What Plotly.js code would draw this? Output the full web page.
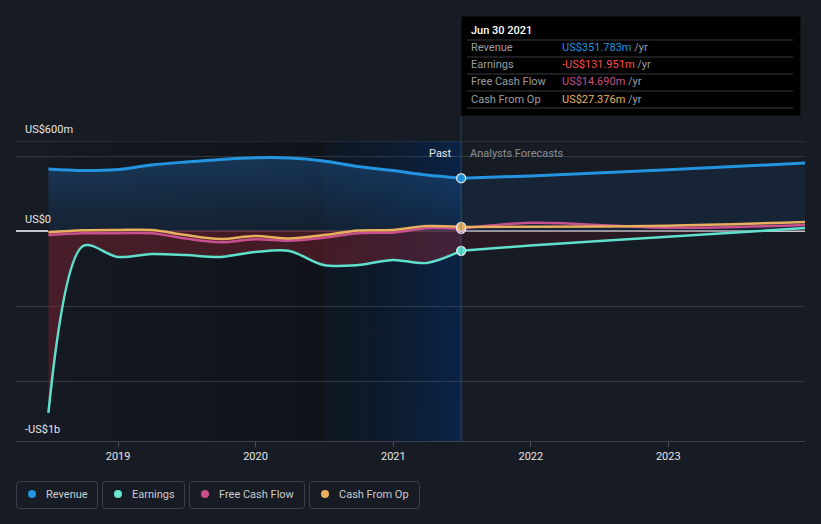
<!DOCTYPE html>
<html>
<head>
<meta charset="utf-8">
<script src="https://cdn.plot.ly/plotly-3.0.1.min.js"></script>
<style>
  html, body { margin: 0; padding: 0; background: #161b24; }
  #chart { width: 821px; height: 524px; }
</style>
</head>
<body>
<div id="chart"></div>
<script>
// ---------------- DATA ----------------
const pastDates = ['2018-06-30','2018-09-30','2018-12-31','2019-03-31','2019-06-30','2019-09-30','2019-12-31','2020-03-31','2020-06-30','2020-09-30','2020-12-31','2021-03-31','2021-06-30'];
const revenuePast  = [413, 403, 410, 440, 460, 477, 488, 487, 467, 430, 403, 373, 351.783];
const earningsPast = [-1213, -100, -173, -153, -160, -173, -140, -133, -227, -227, -193, -213, -131.951];
const fcfPast      = [-27, -15, -15, -15, -50, -75, -55, -65, -45, -15, -10, 18, 14.69];
const cfoPast      = [-8, 5, 7, 7, -27, -53, -33, -50, -27, 3, 7, 33, 27.376];

const forecastDates = ['2021-06-30','2021-12-31','2022-12-31','2023-12-31'];
const revenueFc  = [351.783, 367, 408, 453];
const earningsFc = [-131.951, -97, -39, 20];
const fcfFc      = [14.69, 55, 22, 40];
const cfoFc      = [27.376, 28, 35, 60];

const tickDates  = ['2019-01-01','2020-01-01','2021-01-01','2022-01-01','2023-01-01'];
const tickLabels = ['2019','2020','2021','2022','2023'];

const seriesNames = ['Revenue','Earnings','Free Cash Flow','Cash From Op'];
const tooltipDate = 'Jun 30 2021';
const tooltipValues = ['US$351.783m','-US$131.951m','US$14.690m','US$27.376m'];
const yLabels = [{v: 600, t: 'US$600m'}, {v: 0, t: 'US$0'}, {v: -1400, t: '-US$1b'}];

// ---------------- STYLE ----------------
const FONT = 'Roboto, "Open Sans", sans-serif';
const BG = '#161b24';
const C = { rev: '#2394df', earn: '#5fe0cc', fcf: '#c8508e', cfo: '#e8b05e' };
const valueColors = ['#2394df', '#ff4a4a', '#c8508e', '#e8b05e'];
const legendDots = [C.rev, '#6ae6d4', '#c94f8a', C.cfo];

// plot area in pixels
const PL = 16, PR = 805, PT = 141, PB = 441;
const px = x => (x - PL) / (PR - PL);
const py = y => (PB - y) / (PB - PT);

function gradImg(stops) {
  const c = document.createElement('canvas');
  c.width = 200; c.height = 4;
  const ctx = c.getContext('2d');
  const g = ctx.createLinearGradient(0, 0, 200, 0);
  stops.forEach(s => g.addColorStop(s[0], s[1]));
  ctx.fillStyle = g;
  ctx.fillRect(0, 0, 200, 4);
  return c.toDataURL();
}
const ms = d => new Date(d + 'T00:00:00Z').getTime();

function lineTrace(x, y, color, width, extra) {
  return Object.assign({
    type: 'scatter', mode: 'lines', x: x, y: y,
    line: { color: color, width: width, shape: 'spline', smoothing: 0.9 },
    hoverinfo: 'skip', showlegend: false
  }, extra || {});
}

const traces = [
  lineTrace(pastDates, revenuePast, C.rev, 3, {
    fill: 'tozeroy', fillcolor: 'rgba(28,75,120,0.42)',
    fillgradient: { type: 'vertical', start: 0, stop: 490,
      colorscale: [[0, 'rgba(25,50,80,0.40)'], [1, 'rgba(30,90,150,0.47)']] }
  }),
  lineTrace(forecastDates, revenueFc, C.rev, 3, {
    fill: 'tozeroy', fillcolor: 'rgba(25,55,85,0.35)'
  }),
  lineTrace(pastDates, earningsPast, C.earn, 2.5, {
    fill: 'tozeroy', fillcolor: 'rgba(130,35,48,0.45)'
  }),
  lineTrace(forecastDates, earningsFc, C.earn, 2.5, {
    fill: 'tozeroy', fillcolor: 'rgba(90,25,38,0.30)'
  }),
  lineTrace(pastDates, fcfPast, C.fcf, 2.5),
  lineTrace(forecastDates, fcfFc, C.fcf, 2.5),
  lineTrace(pastDates, cfoPast, C.cfo, 2.5),
  lineTrace(forecastDates, cfoFc, C.cfo, 2.5),
  {
    type: 'scatter', mode: 'markers',
    x: [forecastDates[0], forecastDates[0], forecastDates[0], forecastDates[0]],
    y: [revenueFc[0], earningsFc[0], fcfFc[0], cfoFc[0]],
    marker: { size: 9, color: [C.rev, C.earn, C.fcf, C.cfo], line: { color: '#e6e9ee', width: 1.3 } },
    hoverinfo: 'skip', showlegend: false
  }
];

// ---------------- SHAPES / ANNOTATIONS ----------------
const shapes = [];
const annotations = [];

// top gridline (600m) at range edge
shapes.push({ type: 'line', xref: 'paper', yref: 'y', x0: 0, x1: 1, y0: 600, y1: 600,
  line: { color: 'rgba(255,255,255,0.16)', width: 1 }, layer: 'below' });

// zero line: white outside the past area, softer over the filled past area
shapes.push({ type: 'line', xref: 'paper', yref: 'y', x0: 0, x1: px(48), y0: 0, y1: 0,
  line: { color: '#ffffff', width: 1.5 }, layer: 'above' });
shapes.push({ type: 'line', xref: 'x', yref: 'y', x0: pastDates[0], x1: forecastDates[0], y0: 0, y1: 0,
  line: { color: 'rgba(255,170,170,0.55)', width: 1.2 }, layer: 'below' });
shapes.push({ type: 'line', xref: 'x', yref: 'y', x0: forecastDates[0], x1: forecastDates[forecastDates.length - 1], y0: 0, y1: 0,
  line: { color: '#ffffff', width: 1.5 }, layer: 'below' });

// divider line between past & forecast
shapes.push({ type: 'line', xref: 'x', yref: 'paper', x0: forecastDates[0], x1: forecastDates[0],
  y0: 0, y1: py(116), line: { color: 'rgba(60,105,160,0.55)', width: 1 }, layer: 'above' });

// tooltip box
shapes.push({ type: 'rect', xref: 'paper', yref: 'paper', x0: px(461), x1: px(801), y0: py(16), y1: py(116),
  fillcolor: '#000000', line: { color: '#1c1f24', width: 1 }, layer: 'above' });
[40, 57, 74, 91, 108].forEach(yy => {
  shapes.push({ type: 'line', xref: 'paper', yref: 'paper', x0: px(467), x1: px(793), y0: py(yy), y1: py(yy),
    line: { color: '#3a3b3e', width: 1 }, layer: 'above' });
});
annotations.push({ xref: 'paper', yref: 'paper', x: px(469), y: py(31), xanchor: 'left', yanchor: 'middle',
  text: tooltipDate, showarrow: false, font: { family: FONT, size: 11, color: '#ffffff', weight: 500 } });
[48, 65, 82, 99].forEach((yy, i) => {
  annotations.push({ xref: 'paper', yref: 'paper', x: px(469), y: py(yy), xanchor: 'left', yanchor: 'middle',
    text: seriesNames[i], showarrow: false, font: { family: FONT, size: 11, color: '#9b9da1' } });
  annotations.push({ xref: 'paper', yref: 'paper', x: px(560), y: py(yy), xanchor: 'left', yanchor: 'middle',
    text: '<span style="color:' + valueColors[i] + '">' + tooltipValues[i] + '</span> /yr',
    showarrow: false, font: { family: FONT, size: 11, color: '#9b9da1' } });
});

// Past / Analysts Forecasts
annotations.push({ xref: 'paper', yref: 'paper', x: px(454), y: py(153), xanchor: 'right', yanchor: 'middle',
  text: 'Past', showarrow: false, font: { family: FONT, size: 11, color: '#e8e8e8' } });
annotations.push({ xref: 'paper', yref: 'paper', x: px(468), y: py(153), xanchor: 'left', yanchor: 'middle',
  text: 'Analysts Forecasts', showarrow: false, font: { family: FONT, size: 11, color: '#8b9099' } });

// y labels
yLabels.forEach(l => {
  annotations.push({ xref: 'paper', yref: 'y', x: px(23), y: l.v, xanchor: 'left', yanchor: 'bottom', yshift: 3,
    text: l.t, showarrow: false, font: { family: FONT, size: 11, color: '#e6e6e6' } });
});

// legend boxes
function roundRect(x0, y0, x1, y1, r) {
  const X = v => px(v), Y = v => py(v);
  return 'M' + X(x0 + r) + ',' + Y(y0) + ' L' + X(x1 - r) + ',' + Y(y0) +
    ' Q' + X(x1) + ',' + Y(y0) + ' ' + X(x1) + ',' + Y(y0 + r) +
    ' L' + X(x1) + ',' + Y(y1 - r) + ' Q' + X(x1) + ',' + Y(y1) + ' ' + X(x1 - r) + ',' + Y(y1) +
    ' L' + X(x0 + r) + ',' + Y(y1) + ' Q' + X(x0) + ',' + Y(y1) + ' ' + X(x0) + ',' + Y(y1 - r) +
    ' L' + X(x0) + ',' + Y(y0 + r) + ' Q' + X(x0) + ',' + Y(y0) + ' ' + X(x0 + r) + ',' + Y(y0) + ' Z';
}
const legendBoxes = [[16.5, 97.5], [102.5, 184.5], [189.5, 304.5], [309.5, 419.5]];
legendBoxes.forEach((b, i) => {
  shapes.push({ type: 'path', xref: 'paper', yref: 'paper', path: roundRect(b[0], 481.5, b[1], 508.5, 3),
    line: { color: '#3b414c', width: 1 }, fillcolor: 'rgba(0,0,0,0)', layer: 'above' });
  const cx = b[0] + 15.5;
  shapes.push({ type: 'circle', xref: 'paper', yref: 'paper', x0: px(cx - 4), x1: px(cx + 4), y0: py(490), y1: py(498),
    fillcolor: legendDots[i], line: { width: 0 }, layer: 'above' });
  annotations.push({ xref: 'paper', yref: 'paper', x: px(b[0] + 27), y: py(494.5), xanchor: 'left', yanchor: 'middle',
    text: seriesNames[i], showarrow: false, font: { family: FONT, size: 11, color: '#c9ccd1' } });
});

// background gradient regions
const images = [
  { source: gradImg([[0, 'rgba(0,0,0,0.04)'], [1, 'rgba(0,0,0,0.28)']]),
    xref: 'x', yref: 'paper', x: pastDates[0], y: 1, sizex: ms('2020-06-30') - ms(pastDates[0]), sizey: 1,
    sizing: 'stretch', xanchor: 'left', yanchor: 'top', layer: 'below' },
  { source: gradImg([[0, 'rgba(0,15,30,0.30)'], [1, 'rgba(2,45,105,0.50)']]),
    xref: 'x', yref: 'paper', x: '2020-06-30', y: 1, sizex: ms('2021-06-30') - ms('2020-06-30'), sizey: 1,
    sizing: 'stretch', xanchor: 'left', yanchor: 'top', layer: 'below' }
];

const layout = {
  width: 821, height: 524,
  paper_bgcolor: BG, plot_bgcolor: BG,
  margin: { l: PL, r: 821 - PR, t: PT, b: 524 - PB },
  showlegend: false,
  hovermode: false,
  font: { family: FONT, color: '#e6e6e6', size: 11 },
  xaxis: {
    type: 'date', range: ['2018-04-05', '2023-12-30'],
    tickvals: tickDates, ticktext: tickLabels,
    ticks: 'outside', ticklen: 5, tickcolor: '#4a505a', tickwidth: 1,
    showline: true, linecolor: '#3c424c', linewidth: 1,
    showgrid: false, zeroline: false,
    tickfont: { family: FONT, size: 11, color: '#e6e6e6' }
  },
  yaxis: {
    range: [-1400, 600],
    tickvals: [-1000, -500, 500],
    showticklabels: false, ticks: '',
    showgrid: true, gridcolor: 'rgba(255,255,255,0.13)', gridwidth: 1,
    zeroline: false,
    showline: false
  },
  shapes: shapes,
  annotations: annotations,
  images: images
};

Plotly.newPlot('chart', traces, layout, { staticPlot: true, displayModeBar: false });
</script>
</body>
</html>
